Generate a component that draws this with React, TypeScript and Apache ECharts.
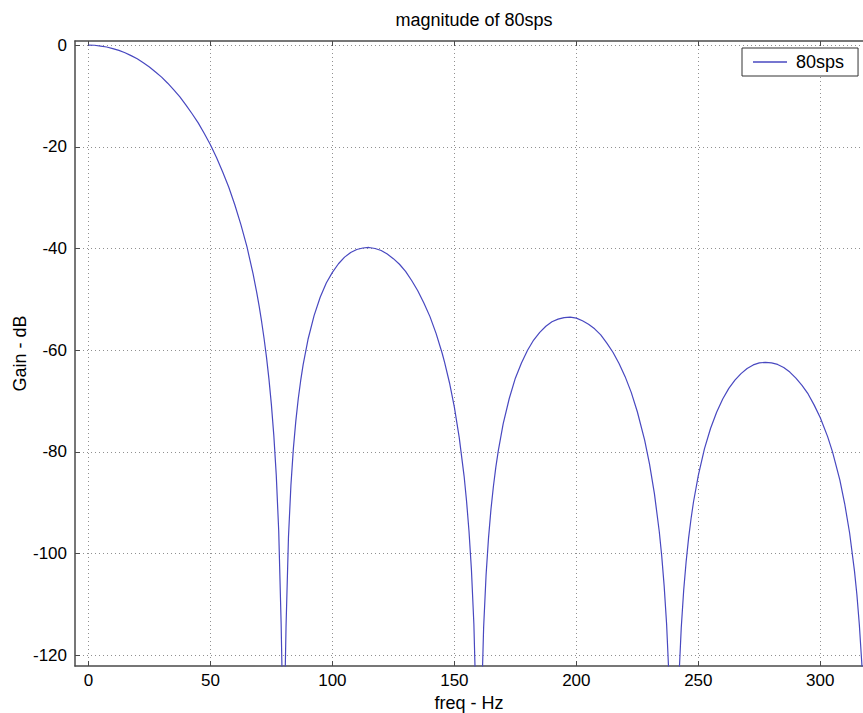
import React, { useEffect, useRef } from "react";
import * as echarts from "echarts";

const titleText = "magnitude of 80sps";
const seriesName = "80sps";
const xName = "freq - Hz";
const yName = "Gain - dB";
const xTicks = [0, 50, 100, 150, 200, 250, 300];
const yTicks = [-120, -100, -80, -60, -40, -20, 0];

const freq = [
  0, 2.5, 5, 7.5, 10, 12.5, 15, 17.5, 20, 22.5, 25, 27.5, 30, 32.5, 35, 37.5, 40, 42.5, 45,
  47.5, 50, 52.5, 55, 57.5, 60, 62.5, 65, 67.5, 69, 70, 71, 72, 73, 74, 75, 76, 77, 78, 79, 80,
  81, 82, 83, 84, 85, 86, 87, 88, 90, 92.5, 95, 97.5, 100, 102.5, 105, 107.5, 110, 112.5, 115,
  117.5, 120, 122.5, 125, 127.5, 130, 132.5, 135, 137.5, 140, 142.5, 145, 146, 148, 150, 152,
  154, 155, 156, 157, 158, 159, 160, 161, 162, 163, 164, 165, 166, 167, 168, 170, 172.5, 175,
  177.5, 180, 182.5, 185, 187.5, 190, 192.5, 195, 197.5, 200, 202.5, 205, 207.5, 210, 212.5,
  215, 217.5, 220, 222.5, 225, 228, 230, 232, 234, 235, 236, 237, 238, 240, 242, 243, 244, 245,
  246, 247, 248, 250, 252.5, 255, 257.5, 260, 262.5, 265, 267.5, 270, 272.5, 275, 277.5, 280,
  282.5, 285, 287.5, 290, 292.5, 295, 297.5, 300, 303, 305, 308, 310, 312, 314, 315, 316, 317,
  318,
];
const gain = [
  0, -0.04, -0.2, -0.38, -0.7, -1.05, -1.5, -2.08, -2.7, -3.48, -4.3, -5.28, -6.3, -7.5, -8.8,
  -10.2, -11.8, -13.5, -15.3, -17.4, -19.6, -22.1, -24.9, -27.9, -31.4, -35.3, -39.7, -45.0,
  -48.7, -51.4, -54.4, -57.7, -61.4, -65.7, -70.7, -76.8, -84.6, -95.5, -113.9, -140,
  -114.5, -96.8, -86.6, -79.4, -74.0, -69.6, -66.0, -62.9, -57.9, -53.2, -49.6, -46.8, -44.7,
  -43.0, -41.7, -40.8, -40.2, -39.9, -39.8, -40.0, -40.4, -41.1, -42.0, -43.1, -44.5, -46.3,
  -48.3, -50.7, -53.4, -56.7, -60.6, -62.4, -66.4, -71.2, -77.2, -84.8, -89.7, -95.6, -103.2,
  -113.9, -132, -140, -132, -114.5, -104.2, -96.9, -91.3, -86.8, -83.0, -79.8, -74.5, -69.5,
  -65.5, -62.5, -60.0, -58.0, -56.5, -55.3, -54.4, -53.9, -53.6, -53.5, -53.7, -54.2, -54.9,
  -55.8, -57.0, -58.6, -60.4, -62.6, -65.2, -68.3, -72.1, -77.7, -82.4, -88.2, -95.7, -100.5,
  -106.4, -113.9, -124.6, -140, -125.0, -114.6, -107.2, -101.6, -97.0, -93.2, -89.9, -84.6,
  -79.4, -75.4, -72.2, -69.6, -67.5, -65.9, -64.6, -63.6, -62.9, -62.5, -62.4, -62.5, -62.8,
  -63.4, -64.3, -65.5, -66.9, -68.6, -70.8, -73.3, -77.0, -80.0, -85.5, -90.2, -95.9, -103.4,
  -108.1, -114.0, -121.5, -132,
];

const FONT = "'Liberation Sans', Arial, sans-serif";
const LINE_COLOR = "#4848c0";

export default function App() {
  const ref = useRef<HTMLDivElement>(null);
  useEffect(() => {
    if (!ref.current) return;
    const chart = echarts.init(ref.current, undefined, { renderer: "svg" });
    const data = freq.map((f, i) => [f, gain[i]]);
    const axisLineStyle = { color: "#4a4a4a", width: 1.5 };
    const splitStyle = { color: "#909090", type: [1, 3] as any, width: 1 };
    chart.setOption({
      animation: false,
      backgroundColor: "#ffffff",
      textStyle: { fontFamily: FONT },
      graphic: [
        {
          type: "text",
          x: 474,
          y: 11,
          style: {
            text: titleText,
            font: `18px ${FONT}`,
            fill: "#000",
            textAlign: "center",
          },
        },
      ],
      legend: {
        left: 742,
        top: 48,
        orient: "vertical",
        backgroundColor: "#fff",
        borderColor: "#333",
        borderWidth: 1,
        borderRadius: 0,
        padding: [5, 14, 5, 11],
        icon: "rect",
        itemWidth: 34,
        itemHeight: 1.5,
        textStyle: { fontSize: 18, color: "#000", fontFamily: FONT, padding: [0, 0, 0, 4] },
        data: [{ name: seriesName }],
      },
      grid: {
        left: 75,
        right: 0,
        top: 41,
        bottom: 47,
        containLabel: false,
        outerBoundsMode: "none",
      },
      xAxis: [
        {
          type: "value",
          min: -5.5,
          max: 317.5,
          position: "bottom",
          name: xName,
          nameLocation: "middle",
          nameGap: 26,
          nameTextStyle: { fontSize: 18, color: "#000", fontFamily: FONT },
          axisLine: { show: true, onZero: false, lineStyle: axisLineStyle },
          axisTick: { show: true, inside: true, length: 5, customValues: xTicks, lineStyle: { color: "#4a4a4a" } },
          axisLabel: { customValues: xTicks, fontSize: 17, color: "#000", margin: 6, fontFamily: FONT },
          splitLine: { show: true, lineStyle: splitStyle },
        },
        {
          type: "value",
          min: -5.5,
          max: 317.5,
          position: "top",
          axisLine: { show: true, onZero: false, lineStyle: axisLineStyle },
          axisTick: { show: true, inside: true, length: 5, customValues: xTicks, lineStyle: { color: "#4a4a4a" } },
          axisLabel: { show: false },
          splitLine: { show: false },
        },
      ],
      yAxis: {
        type: "value",
        min: -122.1,
        max: 0.8,
        name: yName,
        nameLocation: "middle",
        nameGap: 46,
        nameMoveOverlap: false,
        nameTextStyle: { fontSize: 18, color: "#000", fontFamily: FONT },
        axisLine: { show: true, onZero: false, lineStyle: axisLineStyle },
        axisTick: { show: true, inside: true, length: 5, customValues: yTicks, lineStyle: { color: "#4a4a4a" } },
        axisLabel: { customValues: yTicks, fontSize: 17, color: "#000", margin: 8, fontFamily: FONT },
        splitLine: { show: true, lineStyle: splitStyle },
      },
      series: [
        {
          name: seriesName,
          type: "line",
          data,
          xAxisIndex: 0,
          showSymbol: false,
          symbol: "none",
          smooth: false,
          clip: true,
          lineStyle: { color: LINE_COLOR, width: 1.2 },
          itemStyle: { color: LINE_COLOR },
        },
      ],
    });
    return () => chart.dispose();
  }, []);
  return (
    <div
      ref={ref}
      style={{ position: "absolute", left: 0, top: 0, width: 863, height: 713 }}
    />
  );
}
